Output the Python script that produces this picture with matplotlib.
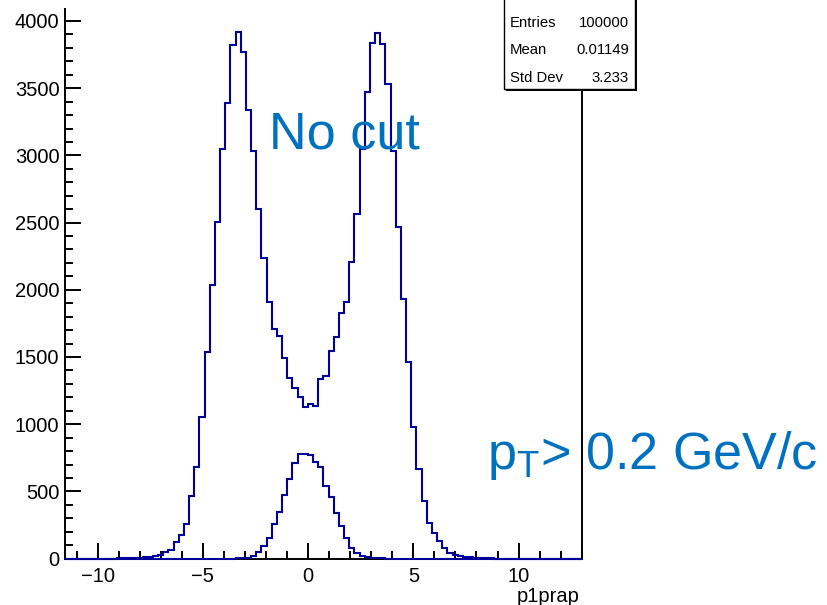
"""p1prap rapidity distribution, with and without the pT cut."""

import numpy as np
import matplotlib
matplotlib.use("Agg")
import matplotlib.pyplot as plt
from matplotlib.patches import Rectangle

plt.rcParams["font.family"] = ["Liberation Sans", "DejaVu Sans"]
plt.rcParams["mathtext.fontset"] = "custom"
plt.rcParams["mathtext.rm"] = "Liberation Sans"

# ── Binning (100 bins, auto range) ──────────────────────────────────────────
X_LO, X_HI, N_BINS = -11.55, 13.0, 100

# bin contents, no cut (bins 0..99)
no_cut = [0] * 10 + [
    1, 2, 3, 5, 8, 12, 15, 22, 29, 51,
    64, 126, 176, 257, 466, 684, 1056, 1540, 2033, 2502,
    3047, 3387, 3821, 3920, 3771, 3337, 3036, 2604, 2234, 1907,
    1708, 1658, 1490, 1341, 1272, 1200, 1130, 1148, 1138, 1336,
    1361, 1547, 1646, 1830, 1907, 2209, 2566, 3047, 3469, 3834,
    3908, 3826, 3529, 3035, 2469, 1929, 1465, 981, 667, 431,
    267, 188, 133, 77, 44, 27, 19, 14, 10, 6,
    4, 2, 1,
] + [0] * 17

# bin contents, pT > 0.2 GeV/c
pt_cut = [0] * 33 + [
    2, 3, 8, 22, 46, 92, 150, 260, 350, 473,
    595, 715, 778, 777, 771, 718, 681, 541, 458, 343,
    243, 151, 80, 45, 23, 12, 8, 4, 2,
] + [0] * 38

stats_names = ["Entries", "Mean", "Std Dev"]
stats_values = ["100000", "0.01149", "3.233"]

LINE = "#000099"
LABEL = "#0070c0"

W, H = 827, 605
fig = plt.figure(figsize=(W / 100, H / 100), dpi=100)

# frame in pixels: left, right, bottom (y from top), top
px_l, px_r, px_b, px_t = 65, 581.7, 558.6, 9
ax = fig.add_axes([px_l / W, 1 - px_b / H, (px_r - px_l) / W, (px_b - px_t) / H])

edges = np.linspace(X_LO, X_HI, N_BINS + 1)
for counts in (no_cut, pt_cut):
    ax.stairs(counts, edges, color=LINE, linewidth=1.5, zorder=3, clip_on=False)

ax.set_xlim(X_LO, X_HI)
ax.set_ylim(0, (px_b - px_t) * 500 / 67.2)

ax.set_xticks([-10, -5, 0, 5, 10])
ax.set_xticks(np.arange(-11, 14, 1), minor=True)
ax.set_yticks(np.arange(0, 4001, 500))
ax.set_yticks(np.arange(0, 4001, 100), minor=True)

ax.tick_params(which="both", direction="in", width=1.4, labelsize=14.5,
               top=False, right=False)
ax.tick_params(which="major", length=11.5)
ax.tick_params(which="minor", length=5.8)
ax.tick_params(axis="y", pad=4)
ax.tick_params(axis="x", pad=6)

for side in ("left", "bottom", "right"):
    ax.spines[side].set_linewidth(1.4)
ax.spines["top"].set_visible(False)

fig.text(580 / W, 1 - 597 / H, "p1prap", ha="right", va="center", fontsize=14.5)

# stats box (drawn past the top edge, with a small shadow)
bx0, bx1, by = 504, 635, 89
fig.patches.append(Rectangle((bx0 / W + 2 / W, 1 - (by + 2) / H), (bx1 - bx0) / W,
                             (by + 20) / H, transform=fig.transFigure,
                             facecolor="black", edgecolor="none", zorder=5))
fig.patches.append(Rectangle((bx0 / W, 1 - by / H), (bx1 - bx0) / W, (by + 20) / H,
                             transform=fig.transFigure, facecolor="white",
                             edgecolor="black", linewidth=1.0, zorder=6))
for i, (name, val) in enumerate(zip(stats_names, stats_values)):
    y = 1 - (23 + 27.5 * i) / H
    fig.text(510 / W, y, name, ha="left", va="center", fontsize=10.7, zorder=7)
    fig.text(629 / W, y, val, ha="right", va="center", fontsize=10.7, zorder=7)

fig.text(269 / W, 1 - 148.3 / H, "No cut", ha="left", va="baseline",
         fontsize=37.5, color=LABEL)
fig.text(486.7 / W, 1 - 469.3 / H, r"p$_{\mathrm{T}}$> 0.2 GeV/c", ha="left",
         va="baseline", fontsize=37.5, color=LABEL)

fig.savefig("out.png", dpi=100)
